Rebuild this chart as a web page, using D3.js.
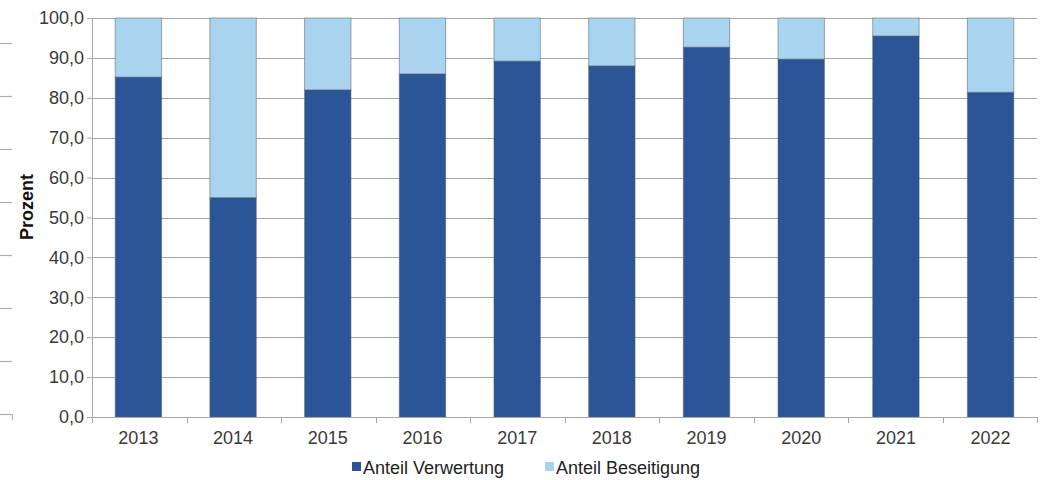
<!DOCTYPE html>
<html>
<head>
<meta charset="utf-8">
<script src="https://cdn.jsdelivr.net/npm/d3@7"></script>
<style>
  body { margin: 0; background: #fff; }
  text { font-family: "Liberation Sans", Arial, sans-serif; }
</style>
</head>
<body>
<div id="chart-area"></div>
<script>
// data
var years = ["2013", "2014", "2015", "2016", "2017", "2018", "2019", "2020", "2021", "2022"];
var verwertung = [85.2, 55.0, 82.0, 86.0, 89.2, 88.0, 92.7, 89.7, 95.5, 81.4];
var seriesNames = ["Anteil Verwertung", "Anteil Beseitigung"];
var yTicks = [0, 10, 20, 30, 40, 50, 60, 70, 80, 90, 100];

var colors = ["#2b5597", "#a9d4ef"];

var W = 1043, H = 480;
var margin = { left: 92, right: 6, top: 18, bottom: 63 };
var width = W - margin.left - margin.right,
    height = H - margin.top - margin.bottom;

var svg = d3.select("#chart-area").append("svg")
    .attr("width", W).attr("height", H);

// stray tick marks of a neighbouring chart at the left border
var strayScale = d3.scaleLinear().domain([0, 7]).range([43, 414]);
svg.append("g").selectAll("line").data(d3.range(8)).enter().append("line")
    .attr("x1", 0).attr("x2", 12)
    .attr("y1", function(d) { return Math.round(strayScale(d)) + 0.5; })
    .attr("y2", function(d) { return Math.round(strayScale(d)) + 0.5; })
    .attr("stroke", "#b0b0b0").attr("stroke-width", 1.2);
svg.append("line").attr("x1", 12.5).attr("x2", 12.5)
    .attr("y1", strayScale(7)).attr("y2", strayScale(7) + 6)
    .attr("stroke", "#b0b0b0");

var g = svg.append("g")
    .attr("transform", "translate(" + margin.left + "," + margin.top + ")");

var x = d3.scaleBand().domain(years).range([0, width]).paddingInner(0.51).paddingOuter(0.245);
var y = d3.scaleLinear().domain([0, 100]).range([height, 0]);

// gridlines
g.append("g").selectAll("line").data(yTicks).enter().append("line")
    .attr("x1", 0).attr("x2", width)
    .attr("y1", function(d) { return Math.round(y(d)) + 0.5; })
    .attr("y2", function(d) { return Math.round(y(d)) + 0.5; })
    .attr("stroke", "#a6a6a6").attr("stroke-width", 1);

// stacked data
var rows = years.map(function(yr, i) {
  return { year: yr, v: verwertung[i], b: 100 - verwertung[i] };
});
var stack = d3.stack().keys(["v", "b"])(rows);

g.selectAll(".series").data(stack).enter().append("g")
    .attr("fill", function(d, i) { return colors[i]; })
  .selectAll("rect").data(function(d) { return d; }).enter().append("rect")
    .attr("x", function(d) { return x(d.data.year); })
    .attr("width", x.bandwidth())
    .attr("y", function(d) { return y(d[1]); })
    .attr("height", function(d) { return y(d[0]) - y(d[1]); })
    .attr("stroke", "#5a6470").attr("stroke-width", 1).attr("stroke-opacity", 0.55);

// y axis
var yAxis = d3.axisLeft(y).tickValues(yTicks).tickSize(5).tickPadding(3)
    .tickFormat(function(d) { return d3.format(".1f")(d).replace(".", ","); });
var ya = g.append("g").call(yAxis);
ya.select(".domain").attr("stroke", "#a6a6a6");
ya.selectAll(".tick line").attr("stroke", "#a6a6a6");
ya.selectAll("text").attr("font-size", "18px").attr("fill", "#3a3a3a")
    .style("font-family", "'Liberation Sans', Arial, sans-serif");

// x axis: ticks between categories
var xa = g.append("g").attr("transform", "translate(0," + height + ")");
xa.append("line").attr("x1", 0).attr("x2", width).attr("y1", 0.5).attr("y2", 0.5)
    .attr("stroke", "#a6a6a6");
xa.selectAll(".sep").data(d3.range(years.length + 1)).enter().append("line")
    .attr("x1", function(d) { return Math.round(d * width / years.length) + 0.5; })
    .attr("x2", function(d) { return Math.round(d * width / years.length) + 0.5; })
    .attr("y1", 0).attr("y2", 6)
    .attr("stroke", "#a6a6a6");
xa.selectAll(".lbl").data(years).enter().append("text")
    .attr("x", function(d) { return x(d) + x.bandwidth() / 2; })
    .attr("y", 27)
    .attr("text-anchor", "middle")
    .attr("font-size", "18px").attr("fill", "#3a3a3a")
    .text(function(d) { return d; });

// y label
svg.append("text")
    .attr("transform", "translate(33,207) rotate(-90)")
    .attr("text-anchor", "middle")
    .attr("font-size", "18px").attr("font-weight", "bold").attr("fill", "#111")
    .text("Prozent");

// legend
var legend = svg.append("g").attr("transform", "translate(352,467)");
var legX = [0, 193];
seriesNames.forEach(function(name, i) {
  var row = legend.append("g").attr("transform", "translate(" + legX[i] + ",0)");
  row.append("rect").attr("x", 0).attr("y", -5).attr("width", 9).attr("height", 9)
      .attr("fill", colors[i]);
  row.append("text").attr("x", 11).attr("y", 6.5)
      .attr("font-size", "18px").attr("fill", "#222")
      .text(name);
});
</script>
</body>
</html>
